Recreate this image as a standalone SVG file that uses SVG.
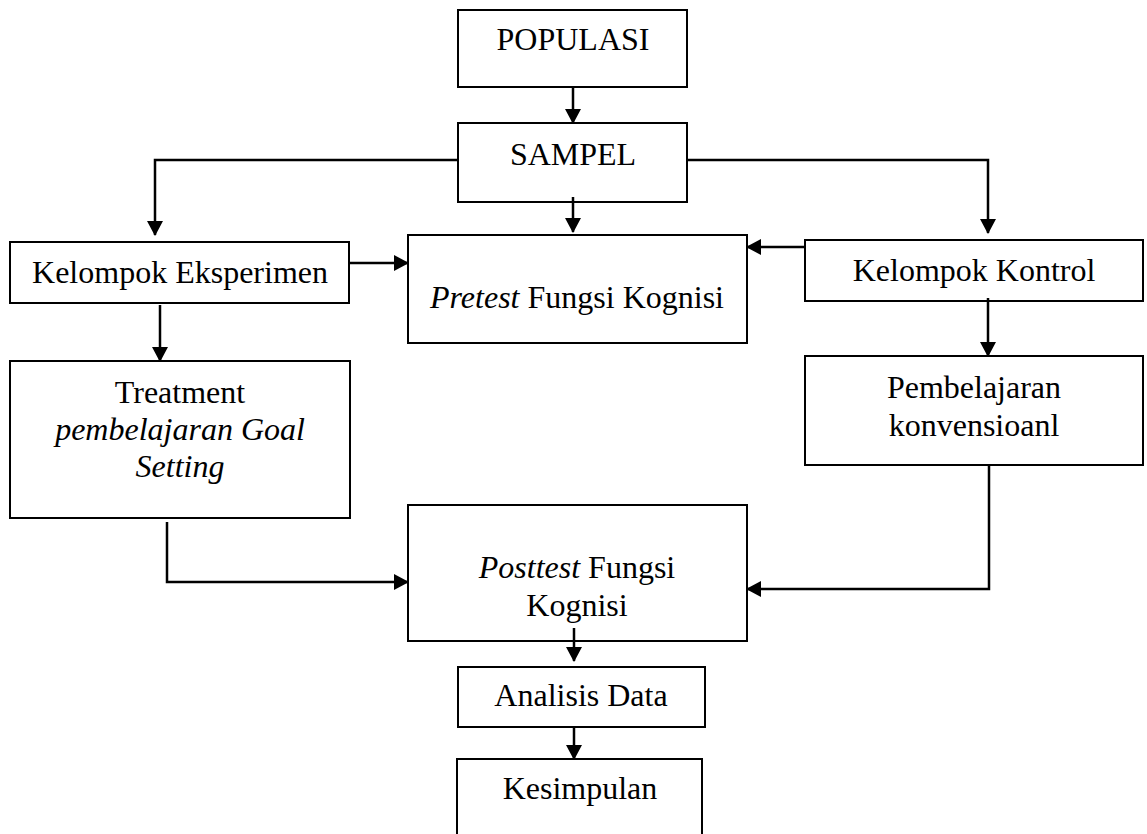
<svg xmlns="http://www.w3.org/2000/svg" width="1147" height="834" viewBox="0 0 1147 834">
<style>
.box{fill:#fff;stroke:#000;stroke-width:2}
.t{font-family:"Liberation Serif","Times New Roman",serif;font-size:32px;fill:#000;text-anchor:middle}
.i{font-style:italic}
.c{fill:none;stroke:#000;stroke-width:2.5}
</style>
<defs>
<marker id="ah" markerWidth="15" markerHeight="16" refX="14" refY="8" orient="auto" markerUnits="userSpaceOnUse">
<path d="M0,0 L15,8 L0,16 Z" fill="#000"/>
</marker>
</defs>
<rect width="1147" height="834" fill="#fff"/>
<g id="n-populasi"><rect class="box" x="458" y="10" width="229" height="77"/><text class="t" x="573" y="50">POPULASI</text></g>
<g id="n-sampel"><rect class="box" x="458" y="123" width="229" height="79"/><text class="t" x="573" y="165">SAMPEL</text></g>
<g id="n-eksperimen"><rect class="box" x="10" y="242" width="339" height="61"/><text class="t" x="180" y="283">Kelompok Eksperimen</text></g>
<g id="n-pretest"><rect class="box" x="408" y="235" width="339" height="108"/><text class="t" x="577" y="308"><tspan class="i">Pretest</tspan> Fungsi Kognisi</text></g>
<g id="n-kontrol"><rect class="box" x="805" y="240" width="338" height="61"/><text class="t" x="974" y="281">Kelompok Kontrol</text></g>
<g id="n-treatment"><rect class="box" x="10" y="361" width="340" height="157"/><text class="t" x="180" y="403">Treatment</text><text class="t i" x="180" y="440">pembelajaran Goal</text><text class="t i" x="180" y="477">Setting</text></g>
<g id="n-konvensional"><rect class="box" x="805" y="356" width="338" height="109"/><text class="t" x="974" y="398">Pembelajaran</text><text class="t" x="974" y="436">konvensioanl</text></g>
<g id="n-posttest"><rect class="box" x="408" y="505" width="339" height="136"/><text class="t" x="577" y="578"><tspan class="i">Posttest</tspan> Fungsi</text><text class="t" x="577" y="616">Kognisi</text></g>
<g id="n-analisis"><rect class="box" x="458" y="667" width="247" height="60"/><text class="t" x="581" y="706">Analisis Data</text></g>
<g id="n-kesimpulan"><rect class="box" x="457" y="759" width="245" height="100"/><text class="t" x="580" y="799">Kesimpulan</text></g>
<g id="connectors">
<line class="c" x1="573" y1="87" x2="573" y2="123" marker-end="url(#ah)"/>
<line class="c" x1="573" y1="197" x2="573" y2="232" marker-end="url(#ah)"/>
<polyline class="c" points="458,160 155,160 155,235" marker-end="url(#ah)"/>
<polyline class="c" points="687,160 988,160 988,233" marker-end="url(#ah)"/>
<line class="c" x1="349" y1="263" x2="408" y2="263" marker-end="url(#ah)"/>
<line class="c" x1="805" y1="247" x2="747" y2="247" marker-end="url(#ah)"/>
<line class="c" x1="160" y1="305" x2="160" y2="361" marker-end="url(#ah)"/>
<line class="c" x1="988" y1="298" x2="988" y2="356" marker-end="url(#ah)"/>
<polyline class="c" points="167,522 167,582 408,582" marker-end="url(#ah)"/>
<polyline class="c" points="989,465 989,589 747,589" marker-end="url(#ah)"/>
<line class="c" x1="574" y1="628" x2="574" y2="661" marker-end="url(#ah)"/>
<line class="c" x1="574" y1="727" x2="574" y2="759" marker-end="url(#ah)"/>
</g>
</svg>
